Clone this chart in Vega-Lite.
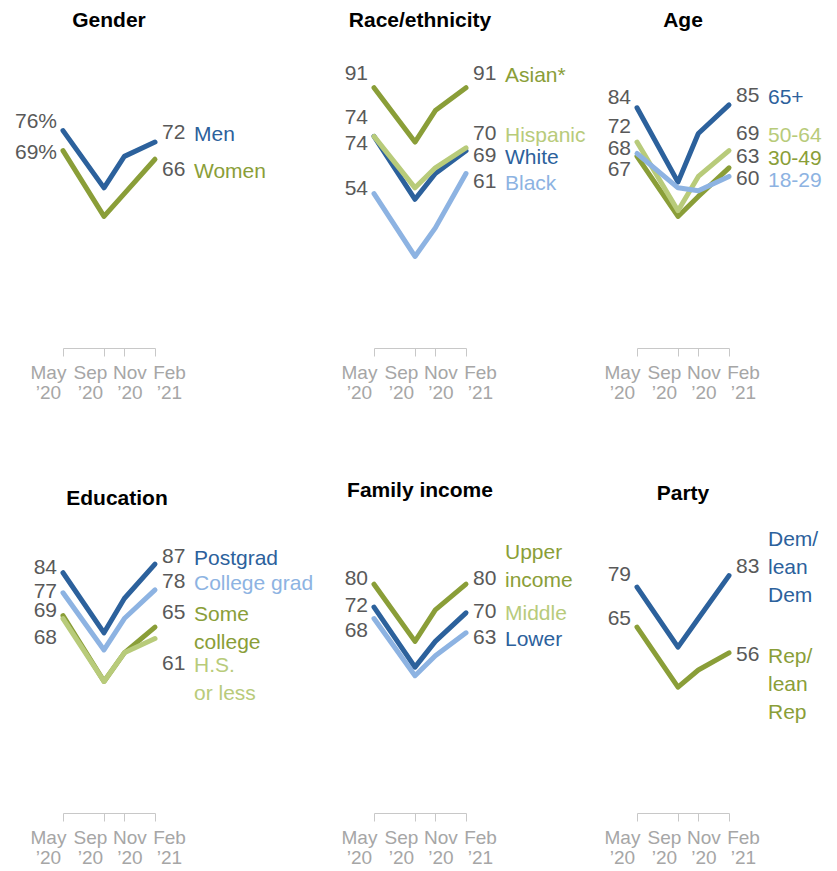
{
  "$schema": "https://vega.github.io/schema/vega-lite/v6.json",
  "autosize": {"type": "pad"},
  "padding": {"left": 14, "top": 10, "right": 0, "bottom": 0},
  "background": "white",
  "config": {
    "view": {"stroke": null},
    "title": {"font": "Liberation Sans", "fontSize": 21, "fontWeight": "bold", "color": "#000000", "anchor": "middle", "frame": "group", "baseline": "alphabetic"},
    "text": {"font": "Liberation Sans", "fontSize": 21},
    "axisX": {"title": null, "grid": false, "domainColor": "#c8c8c8", "tickColor": "#c8c8c8", "tickSize": 8, "labelFont": "Liberation Sans", "labelFontSize": 19, "labelColor": "#a6a6a6", "labelLineHeight": 20, "labelPadding": 7, "labelOverlap": false, "labelFlush": false, "labelBound": false}
  },
  "datasets": {
    "points": [
      {"panel": "gender", "series": "Women", "date": "2020-05-01T00:00:00", "value": 69},
      {"panel": "gender", "series": "Women", "date": "2020-09-01T00:00:00", "value": 46},
      {"panel": "gender", "series": "Women", "date": "2020-11-01T00:00:00", "value": 54},
      {"panel": "gender", "series": "Women", "date": "2021-02-01T00:00:00", "value": 66},
      {"panel": "gender", "series": "Men", "date": "2020-05-01T00:00:00", "value": 76},
      {"panel": "gender", "series": "Men", "date": "2020-09-01T00:00:00", "value": 56},
      {"panel": "gender", "series": "Men", "date": "2020-11-01T00:00:00", "value": 67},
      {"panel": "gender", "series": "Men", "date": "2021-02-01T00:00:00", "value": 72},
      {"panel": "race", "series": "Black", "date": "2020-05-01T00:00:00", "value": 54},
      {"panel": "race", "series": "Black", "date": "2020-09-01T00:00:00", "value": 32},
      {"panel": "race", "series": "Black", "date": "2020-11-01T00:00:00", "value": 42},
      {"panel": "race", "series": "Black", "date": "2021-02-01T00:00:00", "value": 61},
      {"panel": "race", "series": "White", "date": "2020-05-01T00:00:00", "value": 74},
      {"panel": "race", "series": "White", "date": "2020-09-01T00:00:00", "value": 52},
      {"panel": "race", "series": "White", "date": "2020-11-01T00:00:00", "value": 61},
      {"panel": "race", "series": "White", "date": "2021-02-01T00:00:00", "value": 69},
      {"panel": "race", "series": "Hispanic", "date": "2020-05-01T00:00:00", "value": 74},
      {"panel": "race", "series": "Hispanic", "date": "2020-09-01T00:00:00", "value": 56},
      {"panel": "race", "series": "Hispanic", "date": "2020-11-01T00:00:00", "value": 63},
      {"panel": "race", "series": "Hispanic", "date": "2021-02-01T00:00:00", "value": 70},
      {"panel": "race", "series": "Asian*", "date": "2020-05-01T00:00:00", "value": 91},
      {"panel": "race", "series": "Asian*", "date": "2020-09-01T00:00:00", "value": 72},
      {"panel": "race", "series": "Asian*", "date": "2020-11-01T00:00:00", "value": 83},
      {"panel": "race", "series": "Asian*", "date": "2021-02-01T00:00:00", "value": 91},
      {"panel": "age", "series": "65+", "date": "2020-05-01T00:00:00", "value": 84},
      {"panel": "age", "series": "65+", "date": "2020-09-01T00:00:00", "value": 58},
      {"panel": "age", "series": "65+", "date": "2020-11-01T00:00:00", "value": 75},
      {"panel": "age", "series": "65+", "date": "2021-02-01T00:00:00", "value": 85},
      {"panel": "age", "series": "30-49", "date": "2020-05-01T00:00:00", "value": 67},
      {"panel": "age", "series": "30-49", "date": "2020-09-01T00:00:00", "value": 46},
      {"panel": "age", "series": "30-49", "date": "2020-11-01T00:00:00", "value": 53},
      {"panel": "age", "series": "30-49", "date": "2021-02-01T00:00:00", "value": 63},
      {"panel": "age", "series": "50-64", "date": "2020-05-01T00:00:00", "value": 72},
      {"panel": "age", "series": "50-64", "date": "2020-09-01T00:00:00", "value": 48},
      {"panel": "age", "series": "50-64", "date": "2020-11-01T00:00:00", "value": 60},
      {"panel": "age", "series": "50-64", "date": "2021-02-01T00:00:00", "value": 69},
      {"panel": "age", "series": "18-29", "date": "2020-05-01T00:00:00", "value": 68},
      {"panel": "age", "series": "18-29", "date": "2020-09-01T00:00:00", "value": 56},
      {"panel": "age", "series": "18-29", "date": "2020-11-01T00:00:00", "value": 55},
      {"panel": "age", "series": "18-29", "date": "2021-02-01T00:00:00", "value": 60},
      {"panel": "edu", "series": "Postgrad", "date": "2020-05-01T00:00:00", "value": 84},
      {"panel": "edu", "series": "Postgrad", "date": "2020-09-01T00:00:00", "value": 63},
      {"panel": "edu", "series": "Postgrad", "date": "2020-11-01T00:00:00", "value": 75},
      {"panel": "edu", "series": "Postgrad", "date": "2021-02-01T00:00:00", "value": 87},
      {"panel": "edu", "series": "College grad", "date": "2020-05-01T00:00:00", "value": 77},
      {"panel": "edu", "series": "College grad", "date": "2020-09-01T00:00:00", "value": 57},
      {"panel": "edu", "series": "College grad", "date": "2020-11-01T00:00:00", "value": 68},
      {"panel": "edu", "series": "College grad", "date": "2021-02-01T00:00:00", "value": 78},
      {"panel": "edu", "series": "Some college", "date": "2020-05-01T00:00:00", "value": 69},
      {"panel": "edu", "series": "Some college", "date": "2020-09-01T00:00:00", "value": 46},
      {"panel": "edu", "series": "Some college", "date": "2020-11-01T00:00:00", "value": 56},
      {"panel": "edu", "series": "Some college", "date": "2021-02-01T00:00:00", "value": 65},
      {"panel": "edu", "series": "H.S. or less", "date": "2020-05-01T00:00:00", "value": 68},
      {"panel": "edu", "series": "H.S. or less", "date": "2020-09-01T00:00:00", "value": 46},
      {"panel": "edu", "series": "H.S. or less", "date": "2020-11-01T00:00:00", "value": 56},
      {"panel": "edu", "series": "H.S. or less", "date": "2021-02-01T00:00:00", "value": 61},
      {"panel": "income", "series": "Upper income", "date": "2020-05-01T00:00:00", "value": 80},
      {"panel": "income", "series": "Upper income", "date": "2020-09-01T00:00:00", "value": 60},
      {"panel": "income", "series": "Upper income", "date": "2020-11-01T00:00:00", "value": 71},
      {"panel": "income", "series": "Upper income", "date": "2021-02-01T00:00:00", "value": 80},
      {"panel": "income", "series": "Lower", "date": "2020-05-01T00:00:00", "value": 68},
      {"panel": "income", "series": "Lower", "date": "2020-09-01T00:00:00", "value": 48},
      {"panel": "income", "series": "Lower", "date": "2020-11-01T00:00:00", "value": 55},
      {"panel": "income", "series": "Lower", "date": "2021-02-01T00:00:00", "value": 63},
      {"panel": "income", "series": "Middle", "date": "2020-05-01T00:00:00", "value": 72},
      {"panel": "income", "series": "Middle", "date": "2020-09-01T00:00:00", "value": 51},
      {"panel": "income", "series": "Middle", "date": "2020-11-01T00:00:00", "value": 60},
      {"panel": "income", "series": "Middle", "date": "2021-02-01T00:00:00", "value": 70},
      {"panel": "party", "series": "Rep/lean Rep", "date": "2020-05-01T00:00:00", "value": 65},
      {"panel": "party", "series": "Rep/lean Rep", "date": "2020-09-01T00:00:00", "value": 44},
      {"panel": "party", "series": "Rep/lean Rep", "date": "2020-11-01T00:00:00", "value": 50},
      {"panel": "party", "series": "Rep/lean Rep", "date": "2021-02-01T00:00:00", "value": 56},
      {"panel": "party", "series": "Dem/lean Dem", "date": "2020-05-01T00:00:00", "value": 79},
      {"panel": "party", "series": "Dem/lean Dem", "date": "2020-09-01T00:00:00", "value": 58},
      {"panel": "party", "series": "Dem/lean Dem", "date": "2020-11-01T00:00:00", "value": 68},
      {"panel": "party", "series": "Dem/lean Dem", "date": "2021-02-01T00:00:00", "value": 83}
    ],
    "starts": [
      {"panel": "gender", "date": "2020-05-01T00:00:00", "text": "76%", "pos": 79.0},
      {"panel": "gender", "date": "2020-05-01T00:00:00", "text": "69%", "pos": 68.2},
      {"panel": "race", "date": "2020-05-01T00:00:00", "text": "91", "pos": 95.8},
      {"panel": "race", "date": "2020-05-01T00:00:00", "text": "74", "pos": 80.4},
      {"panel": "race", "date": "2020-05-01T00:00:00", "text": "74", "pos": 71.3},
      {"panel": "race", "date": "2020-05-01T00:00:00", "text": "54", "pos": 55.6},
      {"panel": "age", "date": "2020-05-01T00:00:00", "text": "84", "pos": 87.4},
      {"panel": "age", "date": "2020-05-01T00:00:00", "text": "72", "pos": 77.3},
      {"panel": "age", "date": "2020-05-01T00:00:00", "text": "68", "pos": 69.6},
      {"panel": "age", "date": "2020-05-01T00:00:00", "text": "67", "pos": 62.2},
      {"panel": "edu", "date": "2020-05-01T00:00:00", "text": "84", "pos": 85.7},
      {"panel": "edu", "date": "2020-05-01T00:00:00", "text": "77", "pos": 77.3},
      {"panel": "edu", "date": "2020-05-01T00:00:00", "text": "69", "pos": 70.6},
      {"panel": "edu", "date": "2020-05-01T00:00:00", "text": "68", "pos": 61.2},
      {"panel": "income", "date": "2020-05-01T00:00:00", "text": "80", "pos": 81.8},
      {"panel": "income", "date": "2020-05-01T00:00:00", "text": "72", "pos": 72.4},
      {"panel": "income", "date": "2020-05-01T00:00:00", "text": "68", "pos": 63.6},
      {"panel": "party", "date": "2020-05-01T00:00:00", "text": "79", "pos": 83.2},
      {"panel": "party", "date": "2020-05-01T00:00:00", "text": "65", "pos": 67.8}
    ],
    "ends": [
      {"panel": "gender", "series": "Men", "date": "2021-02-01T00:00:00", "value": "72", "valuePos": 75.3, "name": "Men", "namePos": 75.3},
      {"panel": "gender", "series": "Women", "date": "2021-02-01T00:00:00", "value": "66", "valuePos": 62.2, "name": "Women", "namePos": 62.2},
      {"panel": "race", "series": "Asian*", "date": "2021-02-01T00:00:00", "value": "91", "valuePos": 95.8, "name": "Asian*", "namePos": 95.8},
      {"panel": "race", "series": "Hispanic", "date": "2021-02-01T00:00:00", "value": "70", "valuePos": 74.8, "name": "Hispanic", "namePos": 74.8},
      {"panel": "race", "series": "White", "date": "2021-02-01T00:00:00", "value": "69", "valuePos": 67.1, "name": "White", "namePos": 67.1},
      {"panel": "race", "series": "Black", "date": "2021-02-01T00:00:00", "value": "61", "valuePos": 58.0, "name": "Black", "namePos": 58.0},
      {"panel": "age", "series": "65+", "date": "2021-02-01T00:00:00", "value": "85", "valuePos": 88.1, "name": "65+", "namePos": 88.1},
      {"panel": "age", "series": "50-64", "date": "2021-02-01T00:00:00", "value": "69", "valuePos": 74.8, "name": "50-64", "namePos": 74.8},
      {"panel": "age", "series": "30-49", "date": "2021-02-01T00:00:00", "value": "63", "valuePos": 66.8, "name": "30-49", "namePos": 66.8},
      {"panel": "age", "series": "18-29", "date": "2021-02-01T00:00:00", "value": "60", "valuePos": 59.1, "name": "18-29", "namePos": 59.1},
      {"panel": "edu", "series": "Postgrad", "date": "2021-02-01T00:00:00", "value": "87", "valuePos": 89.5, "name": "Postgrad", "namePos": 89.5},
      {"panel": "edu", "series": "College grad", "date": "2021-02-01T00:00:00", "value": "78", "valuePos": 80.8, "name": "College grad", "namePos": 80.8},
      {"panel": "edu", "series": "Some college", "date": "2021-02-01T00:00:00", "value": "65", "valuePos": 69.9, "name": "Some\ncollege", "namePos": 69.9},
      {"panel": "edu", "series": "H.S. or less", "date": "2021-02-01T00:00:00", "value": "61", "valuePos": 52.1, "name": "H.S.\nor less", "namePos": 52.1},
      {"panel": "income", "series": "Upper income", "date": "2021-02-01T00:00:00", "value": "80", "valuePos": 81.8, "name": "Upper\nincome", "namePos": 91.6},
      {"panel": "income", "series": "Middle", "date": "2021-02-01T00:00:00", "value": "70", "valuePos": 70.3, "name": "Middle", "namePos": 70.3},
      {"panel": "income", "series": "Lower", "date": "2021-02-01T00:00:00", "value": "63", "valuePos": 61.2, "name": "Lower", "namePos": 61.2},
      {"panel": "party", "series": "Dem/lean Dem", "date": "2021-02-01T00:00:00", "value": "83", "valuePos": 86.0, "name": "Dem/\nlean\nDem", "namePos": 96.2},
      {"panel": "party", "series": "Rep/lean Rep", "date": "2021-02-01T00:00:00", "value": "56", "valuePos": 55.2, "name": "Rep/\nlean\nRep", "namePos": 55.2}
    ]
  },
  "spacing": 78,
  "resolve": {"scale": {"color": "independent"}},
  "vconcat": [
    {
      "bounds": "flush",
      "spacing": 219,
      "resolve": {"scale": {"color": "independent"}},
      "hconcat": [
        {
          "width": 92, "height": 286,
          "title": {"text": "Gender", "offset": 31},
          "resolve": {"scale": {"color": "independent"}},
          "layer": [
            {"data": {"name": "points"}, "transform": [{"filter": "datum.panel === 'gender'"}],
             "mark": {"type": "line", "strokeWidth": 5, "strokeCap": "round", "strokeJoin": "round"},
             "encoding": {
               "x": {"field": "date", "type": "temporal", "scale": {"nice": false},
                     "axis": {"values": [{"year": 2020, "month": 5, "date": 1}, {"year": 2020, "month": 9, "date": 1}, {"year": 2020, "month": 11, "date": 1}, {"year": 2021, "month": 2, "date": 1}],
                              "tickCount": 4,
                              "labelOffset": {"condition": [{"test": "month(datum.value) == 4", "value": -15}, {"test": "month(datum.value) == 8", "value": -14}, {"test": "month(datum.value) == 10", "value": 5}], "value": 14},
                              "labelExpr": "[timeFormat(datum.value, '%b'), '’' + timeFormat(datum.value, '%y')]"}},
               "y": {"field": "value", "type": "quantitative", "scale": {"domain": [0, 100], "nice": false}, "axis": null},
               "color": {"field": "series", "type": "nominal", "legend": null,
                         "scale": {"domain": ["Men","Women","Asian*","Hispanic","White","Black","65+","50-64","30-49","18-29","Postgrad","College grad","Some college","H.S. or less","Upper income","Middle","Lower","Dem/lean Dem","Rep/lean Rep"],
                                   "range": ["#2c619c","#8a9e38","#8a9e38","#b8cb7a","#2c619c","#8db3e2","#2c619c","#b8cb7a","#8a9e38","#8db3e2","#2c619c","#8db3e2","#8a9e38","#b8cb7a","#8a9e38","#2c619c","#8db3e2","#2c619c","#8a9e38"]}}
             }},
            {"data": {"name": "starts"}, "transform": [{"filter": "datum.panel === 'gender'"}],
             "mark": {"type": "text", "align": "right", "baseline": "middle", "dx": -6, "color": "#595959"},
             "encoding": {"x": {"field": "date", "type": "temporal"}, "y": {"field": "pos", "type": "quantitative", "scale": {"domain": [0, 100], "nice": false}}, "text": {"field": "text"}}},
            {"data": {"name": "ends"}, "transform": [{"filter": "datum.panel === 'gender'"}],
             "mark": {"type": "text", "align": "left", "baseline": "middle", "dx": 7, "color": "#595959"},
             "encoding": {"x": {"field": "date", "type": "temporal"}, "y": {"field": "valuePos", "type": "quantitative", "scale": {"domain": [0, 100], "nice": false}}, "text": {"field": "value"}}},
            {"data": {"name": "ends"}, "transform": [{"filter": "datum.panel === 'gender'"}],
             "mark": {"type": "text", "align": "left", "baseline": "top", "dx": 39, "dy": -9, "lineBreak": "\n", "lineHeight": 28},
             "encoding": {"x": {"field": "date", "type": "temporal"}, "y": {"field": "namePos", "type": "quantitative", "scale": {"domain": [0, 100], "nice": false}}, "text": {"field": "name"},
                          "color": {"field": "series", "type": "nominal", "legend": null,
                                    "scale": {"domain": ["Men","Women","Asian*","Hispanic","White","Black","65+","50-64","30-49","18-29","Postgrad","College grad","Some college","H.S. or less","Upper income","Middle","Lower","Dem/lean Dem","Rep/lean Rep"],
                                              "range": ["#2c619c","#8a9e38","#8a9e38","#b8cb7a","#2c619c","#8db3e2","#2c619c","#b8cb7a","#8a9e38","#8db3e2","#2c619c","#8db3e2","#8a9e38","#b8cb7a","#8a9e38","#b8cb7a","#2c619c","#2c619c","#8a9e38"]}}}}
          ]
        },
        {
          "bounds": "flush",
          "spacing": 171,
          "resolve": {"scale": {"color": "independent"}},
          "hconcat": [
            {
              "width": 92, "height": 286,
              "title": {"text": "Race/ethnicity", "offset": 31},
              "resolve": {"scale": {"color": "independent"}},
              "layer": [
                {"data": {"name": "points"}, "transform": [{"filter": "datum.panel === 'race'"}],
                 "mark": {"type": "line", "strokeWidth": 5, "strokeCap": "round", "strokeJoin": "round"},
                 "encoding": {
                   "x": {"field": "date", "type": "temporal", "scale": {"nice": false},
                         "axis": {"values": [{"year": 2020, "month": 5, "date": 1}, {"year": 2020, "month": 9, "date": 1}, {"year": 2020, "month": 11, "date": 1}, {"year": 2021, "month": 2, "date": 1}],
                                  "tickCount": 4,
                                  "labelOffset": {"condition": [{"test": "month(datum.value) == 4", "value": -15}, {"test": "month(datum.value) == 8", "value": -14}, {"test": "month(datum.value) == 10", "value": 5}], "value": 14},
                                  "labelExpr": "[timeFormat(datum.value, '%b'), '’' + timeFormat(datum.value, '%y')]"}},
                   "y": {"field": "value", "type": "quantitative", "scale": {"domain": [0, 100], "nice": false}, "axis": null},
                   "color": {"field": "series", "type": "nominal", "legend": null,
                             "scale": {"domain": ["Men","Women","Asian*","Hispanic","White","Black","65+","50-64","30-49","18-29","Postgrad","College grad","Some college","H.S. or less","Upper income","Middle","Lower","Dem/lean Dem","Rep/lean Rep"],
                                       "range": ["#2c619c","#8a9e38","#8a9e38","#b8cb7a","#2c619c","#8db3e2","#2c619c","#b8cb7a","#8a9e38","#8db3e2","#2c619c","#8db3e2","#8a9e38","#b8cb7a","#8a9e38","#2c619c","#8db3e2","#2c619c","#8a9e38"]}}
                 }},
                {"data": {"name": "starts"}, "transform": [{"filter": "datum.panel === 'race'"}],
                 "mark": {"type": "text", "align": "right", "baseline": "middle", "dx": -6, "color": "#595959"},
                 "encoding": {"x": {"field": "date", "type": "temporal"}, "y": {"field": "pos", "type": "quantitative", "scale": {"domain": [0, 100], "nice": false}}, "text": {"field": "text"}}},
                {"data": {"name": "ends"}, "transform": [{"filter": "datum.panel === 'race'"}],
                 "mark": {"type": "text", "align": "left", "baseline": "middle", "dx": 7, "color": "#595959"},
                 "encoding": {"x": {"field": "date", "type": "temporal"}, "y": {"field": "valuePos", "type": "quantitative", "scale": {"domain": [0, 100], "nice": false}}, "text": {"field": "value"}}},
                {"data": {"name": "ends"}, "transform": [{"filter": "datum.panel === 'race'"}],
                 "mark": {"type": "text", "align": "left", "baseline": "top", "dx": 39, "dy": -9, "lineBreak": "\n", "lineHeight": 28},
                 "encoding": {"x": {"field": "date", "type": "temporal"}, "y": {"field": "namePos", "type": "quantitative", "scale": {"domain": [0, 100], "nice": false}}, "text": {"field": "name"},
                              "color": {"field": "series", "type": "nominal", "legend": null,
                                        "scale": {"domain": ["Men","Women","Asian*","Hispanic","White","Black","65+","50-64","30-49","18-29","Postgrad","College grad","Some college","H.S. or less","Upper income","Middle","Lower","Dem/lean Dem","Rep/lean Rep"],
                                                  "range": ["#2c619c","#8a9e38","#8a9e38","#b8cb7a","#2c619c","#8db3e2","#2c619c","#b8cb7a","#8a9e38","#8db3e2","#2c619c","#8db3e2","#8a9e38","#b8cb7a","#8a9e38","#b8cb7a","#2c619c","#2c619c","#8a9e38"]}}}}
              ]
            },
            {
              "width": 92, "height": 286,
              "title": {"text": "Age", "offset": 31},
              "resolve": {"scale": {"color": "independent"}},
              "layer": [
                {"data": {"name": "points"}, "transform": [{"filter": "datum.panel === 'age'"}],
                 "mark": {"type": "line", "strokeWidth": 5, "strokeCap": "round", "strokeJoin": "round"},
                 "encoding": {
                   "x": {"field": "date", "type": "temporal", "scale": {"nice": false},
                         "axis": {"values": [{"year": 2020, "month": 5, "date": 1}, {"year": 2020, "month": 9, "date": 1}, {"year": 2020, "month": 11, "date": 1}, {"year": 2021, "month": 2, "date": 1}],
                                  "tickCount": 4,
                                  "labelOffset": {"condition": [{"test": "month(datum.value) == 4", "value": -15}, {"test": "month(datum.value) == 8", "value": -14}, {"test": "month(datum.value) == 10", "value": 5}], "value": 14},
                                  "labelExpr": "[timeFormat(datum.value, '%b'), '’' + timeFormat(datum.value, '%y')]"}},
                   "y": {"field": "value", "type": "quantitative", "scale": {"domain": [0, 100], "nice": false}, "axis": null},
                   "color": {"field": "series", "type": "nominal", "legend": null,
                             "scale": {"domain": ["Men","Women","Asian*","Hispanic","White","Black","65+","50-64","30-49","18-29","Postgrad","College grad","Some college","H.S. or less","Upper income","Middle","Lower","Dem/lean Dem","Rep/lean Rep"],
                                       "range": ["#2c619c","#8a9e38","#8a9e38","#b8cb7a","#2c619c","#8db3e2","#2c619c","#b8cb7a","#8a9e38","#8db3e2","#2c619c","#8db3e2","#8a9e38","#b8cb7a","#8a9e38","#2c619c","#8db3e2","#2c619c","#8a9e38"]}}
                 }},
                {"data": {"name": "starts"}, "transform": [{"filter": "datum.panel === 'age'"}],
                 "mark": {"type": "text", "align": "right", "baseline": "middle", "dx": -6, "color": "#595959"},
                 "encoding": {"x": {"field": "date", "type": "temporal"}, "y": {"field": "pos", "type": "quantitative", "scale": {"domain": [0, 100], "nice": false}}, "text": {"field": "text"}}},
                {"data": {"name": "ends"}, "transform": [{"filter": "datum.panel === 'age'"}],
                 "mark": {"type": "text", "align": "left", "baseline": "middle", "dx": 7, "color": "#595959"},
                 "encoding": {"x": {"field": "date", "type": "temporal"}, "y": {"field": "valuePos", "type": "quantitative", "scale": {"domain": [0, 100], "nice": false}}, "text": {"field": "value"}}},
                {"data": {"name": "ends"}, "transform": [{"filter": "datum.panel === 'age'"}],
                 "mark": {"type": "text", "align": "left", "baseline": "top", "dx": 39, "dy": -9, "lineBreak": "\n", "lineHeight": 28},
                 "encoding": {"x": {"field": "date", "type": "temporal"}, "y": {"field": "namePos", "type": "quantitative", "scale": {"domain": [0, 100], "nice": false}}, "text": {"field": "name"},
                              "color": {"field": "series", "type": "nominal", "legend": null,
                                        "scale": {"domain": ["Men","Women","Asian*","Hispanic","White","Black","65+","50-64","30-49","18-29","Postgrad","College grad","Some college","H.S. or less","Upper income","Middle","Lower","Dem/lean Dem","Rep/lean Rep"],
                                                  "range": ["#2c619c","#8a9e38","#8a9e38","#b8cb7a","#2c619c","#8db3e2","#2c619c","#b8cb7a","#8a9e38","#8db3e2","#2c619c","#8db3e2","#8a9e38","#b8cb7a","#8a9e38","#b8cb7a","#2c619c","#2c619c","#8a9e38"]}}}}
              ]
            }
          ]
        }
      ]
    },
    {
      "bounds": "flush",
      "spacing": 219,
      "resolve": {"scale": {"color": "independent"}},
      "hconcat": [
        {
          "width": 92, "height": 286,
          "title": {"text": "Education", "offset": 18, "dx": 8},
          "resolve": {"scale": {"color": "independent"}},
          "layer": [
            {"data": {"name": "points"}, "transform": [{"filter": "datum.panel === 'edu'"}],
             "mark": {"type": "line", "strokeWidth": 5, "strokeCap": "round", "strokeJoin": "round"},
             "encoding": {
               "x": {"field": "date", "type": "temporal", "scale": {"nice": false},
                     "axis": {"values": [{"year": 2020, "month": 5, "date": 1}, {"year": 2020, "month": 9, "date": 1}, {"year": 2020, "month": 11, "date": 1}, {"year": 2021, "month": 2, "date": 1}],
                              "tickCount": 4,
                              "labelOffset": {"condition": [{"test": "month(datum.value) == 4", "value": -15}, {"test": "month(datum.value) == 8", "value": -14}, {"test": "month(datum.value) == 10", "value": 5}], "value": 14},
                              "labelExpr": "[timeFormat(datum.value, '%b'), '’' + timeFormat(datum.value, '%y')]"}},
               "y": {"field": "value", "type": "quantitative", "scale": {"domain": [0, 100], "nice": false}, "axis": null},
               "color": {"field": "series", "type": "nominal", "legend": null,
                         "scale": {"domain": ["Men","Women","Asian*","Hispanic","White","Black","65+","50-64","30-49","18-29","Postgrad","College grad","Some college","H.S. or less","Upper income","Middle","Lower","Dem/lean Dem","Rep/lean Rep"],
                                   "range": ["#2c619c","#8a9e38","#8a9e38","#b8cb7a","#2c619c","#8db3e2","#2c619c","#b8cb7a","#8a9e38","#8db3e2","#2c619c","#8db3e2","#8a9e38","#b8cb7a","#8a9e38","#2c619c","#8db3e2","#2c619c","#8a9e38"]}}
             }},
            {"data": {"name": "starts"}, "transform": [{"filter": "datum.panel === 'edu'"}],
             "mark": {"type": "text", "align": "right", "baseline": "middle", "dx": -6, "color": "#595959"},
             "encoding": {"x": {"field": "date", "type": "temporal"}, "y": {"field": "pos", "type": "quantitative", "scale": {"domain": [0, 100], "nice": false}}, "text": {"field": "text"}}},
            {"data": {"name": "ends"}, "transform": [{"filter": "datum.panel === 'edu'"}],
             "mark": {"type": "text", "align": "left", "baseline": "middle", "dx": 7, "color": "#595959"},
             "encoding": {"x": {"field": "date", "type": "temporal"}, "y": {"field": "valuePos", "type": "quantitative", "scale": {"domain": [0, 100], "nice": false}}, "text": {"field": "value"}}},
            {"data": {"name": "ends"}, "transform": [{"filter": "datum.panel === 'edu'"}],
             "mark": {"type": "text", "align": "left", "baseline": "top", "dx": 39, "dy": -9, "lineBreak": "\n", "lineHeight": 28},
             "encoding": {"x": {"field": "date", "type": "temporal"}, "y": {"field": "namePos", "type": "quantitative", "scale": {"domain": [0, 100], "nice": false}}, "text": {"field": "name"},
                          "color": {"field": "series", "type": "nominal", "legend": null,
                                    "scale": {"domain": ["Men","Women","Asian*","Hispanic","White","Black","65+","50-64","30-49","18-29","Postgrad","College grad","Some college","H.S. or less","Upper income","Middle","Lower","Dem/lean Dem","Rep/lean Rep"],
                                              "range": ["#2c619c","#8a9e38","#8a9e38","#b8cb7a","#2c619c","#8db3e2","#2c619c","#b8cb7a","#8a9e38","#8db3e2","#2c619c","#8db3e2","#8a9e38","#b8cb7a","#8a9e38","#b8cb7a","#2c619c","#2c619c","#8a9e38"]}}}}
          ]
        },
        {
          "bounds": "flush",
          "spacing": 171,
          "resolve": {"scale": {"color": "independent"}},
          "hconcat": [
            {
              "width": 92, "height": 286,
              "title": {"text": "Family income", "offset": 26},
              "resolve": {"scale": {"color": "independent"}},
              "layer": [
                {"data": {"name": "points"}, "transform": [{"filter": "datum.panel === 'income'"}],
                 "mark": {"type": "line", "strokeWidth": 5, "strokeCap": "round", "strokeJoin": "round"},
                 "encoding": {
                   "x": {"field": "date", "type": "temporal", "scale": {"nice": false},
                         "axis": {"values": [{"year": 2020, "month": 5, "date": 1}, {"year": 2020, "month": 9, "date": 1}, {"year": 2020, "month": 11, "date": 1}, {"year": 2021, "month": 2, "date": 1}],
                                  "tickCount": 4,
                                  "labelOffset": {"condition": [{"test": "month(datum.value) == 4", "value": -15}, {"test": "month(datum.value) == 8", "value": -14}, {"test": "month(datum.value) == 10", "value": 5}], "value": 14},
                                  "labelExpr": "[timeFormat(datum.value, '%b'), '’' + timeFormat(datum.value, '%y')]"}},
                   "y": {"field": "value", "type": "quantitative", "scale": {"domain": [0, 100], "nice": false}, "axis": null},
                   "color": {"field": "series", "type": "nominal", "legend": null,
                             "scale": {"domain": ["Men","Women","Asian*","Hispanic","White","Black","65+","50-64","30-49","18-29","Postgrad","College grad","Some college","H.S. or less","Upper income","Middle","Lower","Dem/lean Dem","Rep/lean Rep"],
                                       "range": ["#2c619c","#8a9e38","#8a9e38","#b8cb7a","#2c619c","#8db3e2","#2c619c","#b8cb7a","#8a9e38","#8db3e2","#2c619c","#8db3e2","#8a9e38","#b8cb7a","#8a9e38","#2c619c","#8db3e2","#2c619c","#8a9e38"]}}
                 }},
                {"data": {"name": "starts"}, "transform": [{"filter": "datum.panel === 'income'"}],
                 "mark": {"type": "text", "align": "right", "baseline": "middle", "dx": -6, "color": "#595959"},
                 "encoding": {"x": {"field": "date", "type": "temporal"}, "y": {"field": "pos", "type": "quantitative", "scale": {"domain": [0, 100], "nice": false}}, "text": {"field": "text"}}},
                {"data": {"name": "ends"}, "transform": [{"filter": "datum.panel === 'income'"}],
                 "mark": {"type": "text", "align": "left", "baseline": "middle", "dx": 7, "color": "#595959"},
                 "encoding": {"x": {"field": "date", "type": "temporal"}, "y": {"field": "valuePos", "type": "quantitative", "scale": {"domain": [0, 100], "nice": false}}, "text": {"field": "value"}}},
                {"data": {"name": "ends"}, "transform": [{"filter": "datum.panel === 'income'"}],
                 "mark": {"type": "text", "align": "left", "baseline": "top", "dx": 39, "dy": -9, "lineBreak": "\n", "lineHeight": 28},
                 "encoding": {"x": {"field": "date", "type": "temporal"}, "y": {"field": "namePos", "type": "quantitative", "scale": {"domain": [0, 100], "nice": false}}, "text": {"field": "name"},
                              "color": {"field": "series", "type": "nominal", "legend": null,
                                        "scale": {"domain": ["Men","Women","Asian*","Hispanic","White","Black","65+","50-64","30-49","18-29","Postgrad","College grad","Some college","H.S. or less","Upper income","Middle","Lower","Dem/lean Dem","Rep/lean Rep"],
                                                  "range": ["#2c619c","#8a9e38","#8a9e38","#b8cb7a","#2c619c","#8db3e2","#2c619c","#b8cb7a","#8a9e38","#8db3e2","#2c619c","#8db3e2","#8a9e38","#b8cb7a","#8a9e38","#b8cb7a","#2c619c","#2c619c","#8a9e38"]}}}}
              ]
            },
            {
              "width": 92, "height": 286,
              "title": {"text": "Party", "offset": 23},
              "resolve": {"scale": {"color": "independent"}},
              "layer": [
                {"data": {"name": "points"}, "transform": [{"filter": "datum.panel === 'party'"}],
                 "mark": {"type": "line", "strokeWidth": 5, "strokeCap": "round", "strokeJoin": "round"},
                 "encoding": {
                   "x": {"field": "date", "type": "temporal", "scale": {"nice": false},
                         "axis": {"values": [{"year": 2020, "month": 5, "date": 1}, {"year": 2020, "month": 9, "date": 1}, {"year": 2020, "month": 11, "date": 1}, {"year": 2021, "month": 2, "date": 1}],
                                  "tickCount": 4,
                                  "labelOffset": {"condition": [{"test": "month(datum.value) == 4", "value": -15}, {"test": "month(datum.value) == 8", "value": -14}, {"test": "month(datum.value) == 10", "value": 5}], "value": 14},
                                  "labelExpr": "[timeFormat(datum.value, '%b'), '’' + timeFormat(datum.value, '%y')]"}},
                   "y": {"field": "value", "type": "quantitative", "scale": {"domain": [0, 100], "nice": false}, "axis": null},
                   "color": {"field": "series", "type": "nominal", "legend": null,
                             "scale": {"domain": ["Men","Women","Asian*","Hispanic","White","Black","65+","50-64","30-49","18-29","Postgrad","College grad","Some college","H.S. or less","Upper income","Middle","Lower","Dem/lean Dem","Rep/lean Rep"],
                                       "range": ["#2c619c","#8a9e38","#8a9e38","#b8cb7a","#2c619c","#8db3e2","#2c619c","#b8cb7a","#8a9e38","#8db3e2","#2c619c","#8db3e2","#8a9e38","#b8cb7a","#8a9e38","#2c619c","#8db3e2","#2c619c","#8a9e38"]}}
                 }},
                {"data": {"name": "starts"}, "transform": [{"filter": "datum.panel === 'party'"}],
                 "mark": {"type": "text", "align": "right", "baseline": "middle", "dx": -6, "color": "#595959"},
                 "encoding": {"x": {"field": "date", "type": "temporal"}, "y": {"field": "pos", "type": "quantitative", "scale": {"domain": [0, 100], "nice": false}}, "text": {"field": "text"}}},
                {"data": {"name": "ends"}, "transform": [{"filter": "datum.panel === 'party'"}],
                 "mark": {"type": "text", "align": "left", "baseline": "middle", "dx": 7, "color": "#595959"},
                 "encoding": {"x": {"field": "date", "type": "temporal"}, "y": {"field": "valuePos", "type": "quantitative", "scale": {"domain": [0, 100], "nice": false}}, "text": {"field": "value"}}},
                {"data": {"name": "ends"}, "transform": [{"filter": "datum.panel === 'party'"}],
                 "mark": {"type": "text", "align": "left", "baseline": "top", "dx": 39, "dy": -9, "lineBreak": "\n", "lineHeight": 28},
                 "encoding": {"x": {"field": "date", "type": "temporal"}, "y": {"field": "namePos", "type": "quantitative", "scale": {"domain": [0, 100], "nice": false}}, "text": {"field": "name"},
                              "color": {"field": "series", "type": "nominal", "legend": null,
                                        "scale": {"domain": ["Men","Women","Asian*","Hispanic","White","Black","65+","50-64","30-49","18-29","Postgrad","College grad","Some college","H.S. or less","Upper income","Middle","Lower","Dem/lean Dem","Rep/lean Rep"],
                                                  "range": ["#2c619c","#8a9e38","#8a9e38","#b8cb7a","#2c619c","#8db3e2","#2c619c","#b8cb7a","#8a9e38","#8db3e2","#2c619c","#8db3e2","#8a9e38","#b8cb7a","#8a9e38","#b8cb7a","#2c619c","#2c619c","#8a9e38"]}}}}
              ]
            }
          ]
        }
      ]
    }
  ]
}
